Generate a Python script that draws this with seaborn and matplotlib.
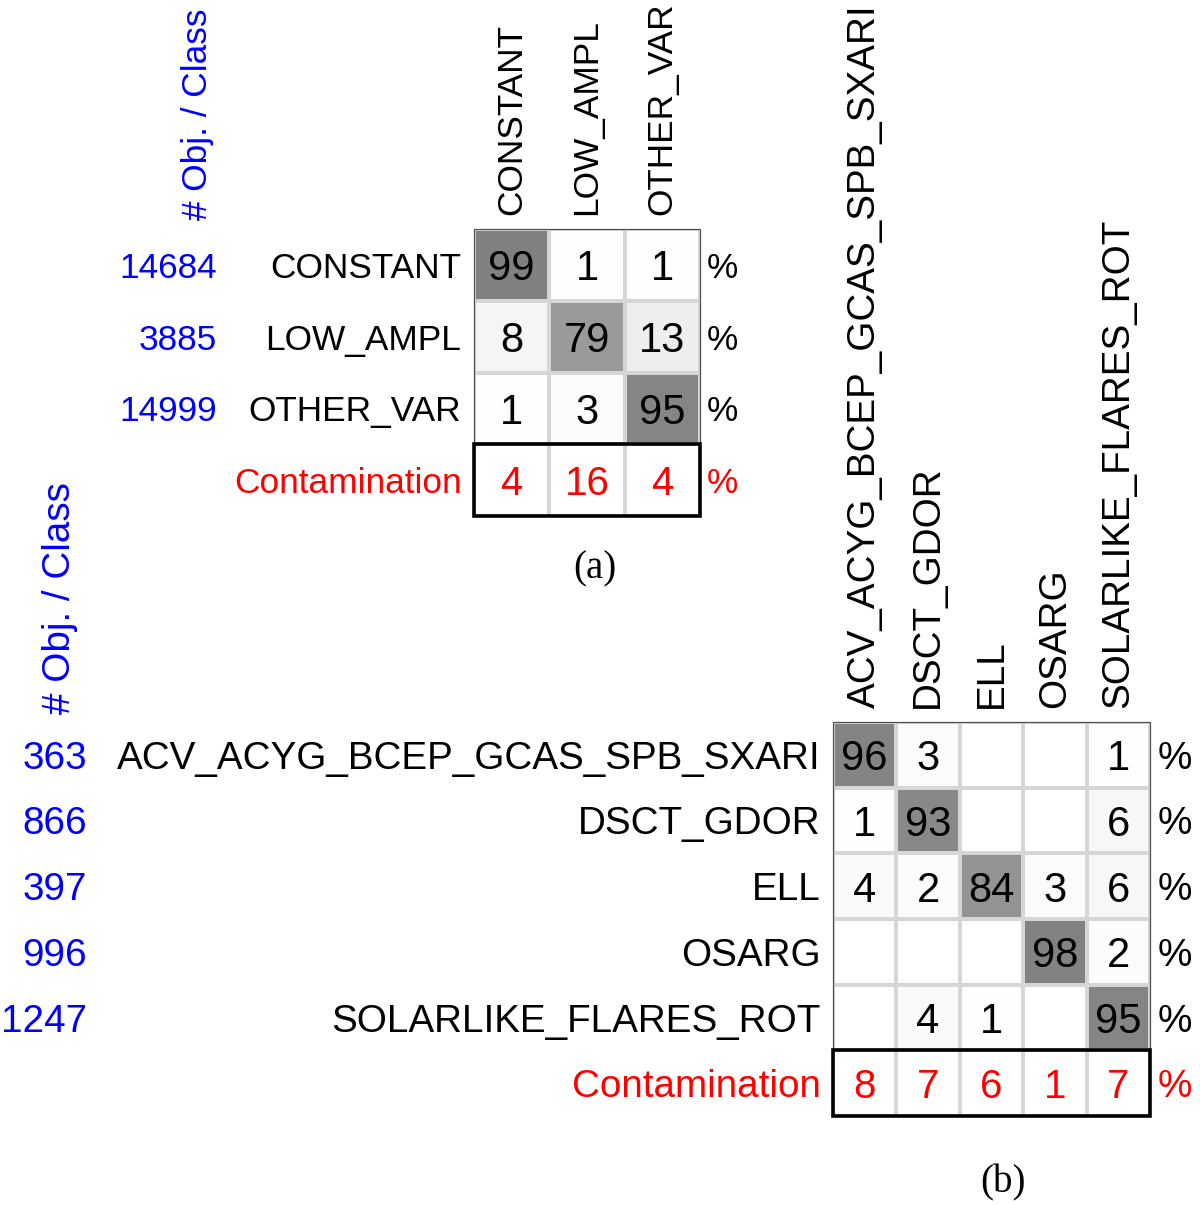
import numpy as np
import pandas as pd
import matplotlib
matplotlib.use("Agg")
import matplotlib.pyplot as plt
import matplotlib.transforms as mtransforms
from matplotlib.colors import LinearSegmentedColormap
from matplotlib.patches import Rectangle
import seaborn as sns

# panel (a)
A_CLASSES = ["CONSTANT", "LOW_AMPL", "OTHER_VAR"]
A_COUNTS = [14684, 3885, 14999]
A_MATRIX = [
    [99, 1, 1],
    [8, 79, 13],
    [1, 3, 95],
]
A_CONTAM = [4, 16, 4]

# panel (b)
B_CLASSES = ["ACV_ACYG_BCEP_GCAS_SPB_SXARI", "DSCT_GDOR", "ELL", "OSARG",
             "SOLARLIKE_FLARES_ROT"]
B_COUNTS = [363, 866, 397, 996, 1247]
B_MATRIX = [
    [96, 3, 0, 0, 1],
    [1, 93, 0, 0, 6],
    [4, 2, 84, 3, 6],
    [0, 0, 0, 98, 2],
    [0, 4, 1, 0, 95],
]
B_CONTAM = [8, 7, 6, 1, 7]

W, H = 1200, 1205

sns.set_style("white")
plt.rcParams["font.family"] = ["Liberation Sans", "DejaVu Sans"]
plt.rcParams["text.color"] = "black"
plt.rcParams["xtick.color"] = "black"
plt.rcParams["ytick.color"] = "black"

GRAYS = LinearSegmentedColormap.from_list("grays", ["#ffffff", "#7f7f7f"])


def px_rect(x0, y0, x1, y1):
    """pixel box (top-left origin) -> figure fraction rect"""
    return [x0 / W, 1 - y1 / H, (x1 - x0) / W, (y1 - y0) / H]


def draw_panel(fig, rect, classes, counts, matrix, contam, fs, afs, count_x,
               pct_x, header_x, header_y, label, label_xy):
    ax = fig.add_axes(rect)
    n = len(classes)
    vals = np.vstack([np.array(matrix, dtype=float), np.zeros((1, n))])
    df = pd.DataFrame(vals, index=classes + ["Contamination"], columns=classes)
    annot = np.array([[str(int(v)) if v > 0 else "" for v in row] for row in vals])
    annot[-1, :] = ""

    sns.heatmap(df, ax=ax, cmap=GRAYS, vmin=0, vmax=100, cbar=False,
                annot=annot, fmt="",
                annot_kws={"size": afs, "color": "black", "va": "center_baseline"},
                linewidths=1.5, linecolor="#d6d6d6")

    ax.xaxis.tick_top()
    ax.set_xticklabels(classes, rotation=90, fontsize=fs, va="bottom")
    ax.set_yticklabels(classes + ["Contamination"], rotation=0, fontsize=fs,
                       va="center_baseline")
    ax.get_yticklabels()[-1].set_color("red")
    ax.tick_params(axis="x", length=0, pad=10)
    ax.tick_params(axis="y", length=0, pad=9)
    ax.set_xlabel("")
    ax.set_ylabel("")

    # contamination row values
    for j, v in enumerate(contam):
        ax.text(j + 0.5, n + 0.5, str(v), color="red", fontsize=afs - 1,
                ha="center", va="center_baseline")

    # borders
    ax.add_patch(Rectangle((0, 0), n, n, fill=False, edgecolor="#505050",
                           lw=0.9, clip_on=False))
    ax.add_patch(Rectangle((0, n), n, 1, fill=False, edgecolor="black",
                           lw=2.6, clip_on=False))

    # object counts and percent column
    tr = mtransforms.blended_transform_factory(fig.transFigure, ax.transData)
    for i in range(n + 1):
        if i < n:
            ax.text(count_x / W, i + 0.5, str(counts[i]), color="blue",
                    fontsize=fs, ha="right", va="center_baseline", transform=tr)
        ax.text(pct_x / W, i + 0.5, "%", color="red" if i == n else "black",
                fontsize=fs, ha="left", va="center_baseline", transform=tr)

    fig.text(header_x / W, 1 - header_y / H, "# Obj. / Class", color="blue",
             fontsize=fs, rotation=90, ha="center", va="bottom")
    fig.text(label_xy[0] / W, 1 - label_xy[1] / H, label, fontsize=28,
             family="Liberation Serif", ha="center", va="center")
    return ax


fig = plt.figure(figsize=(W / 100, H / 100), dpi=100)

draw_panel(fig, px_rect(474, 229, 700, 516), A_CLASSES, A_COUNTS, A_MATRIX,
           A_CONTAM, fs=25.4, afs=30, count_x=217, pct_x=707, header_x=197,
           header_y=220, label="(a)", label_xy=(595, 569))

draw_panel(fig, px_rect(833, 722, 1150, 1116), B_CLASSES, B_COUNTS, B_MATRIX,
           B_CONTAM, fs=27.8, afs=30, count_x=87, pct_x=1158, header_x=60,
           header_y=714, label="(b)", label_xy=(1003, 1183))

fig.savefig("out.png", dpi=100)
